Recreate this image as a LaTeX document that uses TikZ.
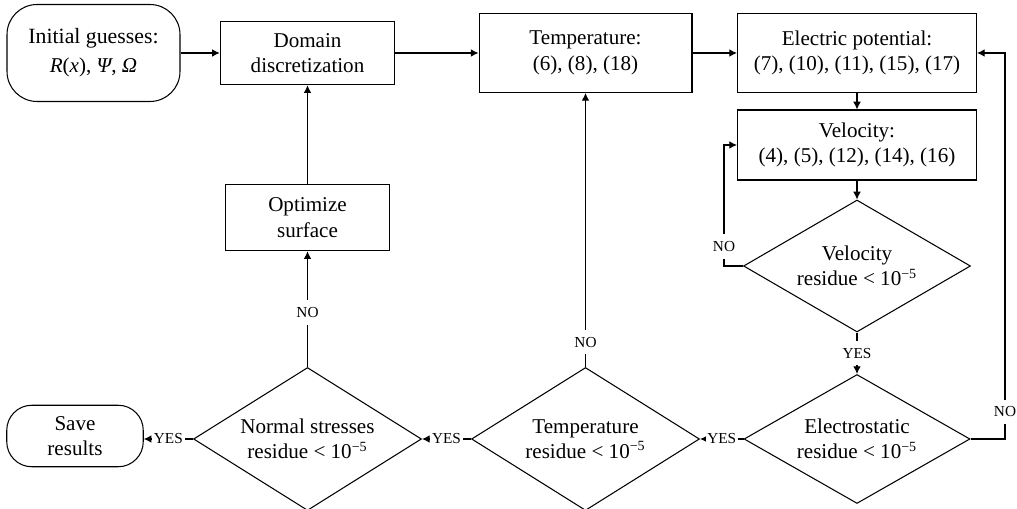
\documentclass[tikz,border=0pt]{standalone}
\usepackage{fontspec}
\setmainfont{Liberation Serif}
\usetikzlibrary{arrows.meta,shapes.geometric}

\begin{document}
\begin{tikzpicture}[x=0.02cm,y=-0.02cm,>={Latex[length=4.4pt,width=4.4pt]},line width=0.6pt,font=\fontsize{12}{14.5}\selectfont,
box/.style={draw,align=center,inner sep=0pt},
rbox/.style={box,rounded corners=0.5cm},
dia/.style={draw,diamond,align=center,inner sep=0pt},
lab/.style={fill=white,font=\fontsize{8.7}{10}\selectfont,inner xsep=1pt,inner ysep=4pt}]
\useasboundingbox (0,0) rectangle (1017,509);
% top row
\node[rbox,rounded corners=0.6cm,minimum width=3.46cm,minimum height=1.94cm] (init) at (93.5,53) {\fontsize{12.4}{14.5}\selectfont Initial guesses:\\[2pt]\textit{R}(\textit{x}), \textit{Ψ}, \textit{Ω}};
\node[box,minimum width=3.49cm,minimum height=1.27cm] (dom) at (307.5,53) {Domain\\discretization};
\node[box,minimum width=4.26cm,minimum height=1.58cm] (temp) at (585.5,53) {Temperature:\\(6), (8), (18)};
\node[box,minimum width=4.78cm,minimum height=1.58cm] (epot) at (857,53) {Electric potential:\\(7), (10), (11), (15), (17)};
\node[box,minimum width=4.78cm,minimum height=1.4cm] (vel) at (857,145) {Velocity:\\(4), (5), (12), (14), (16)};
\node[box,minimum width=3.28cm,minimum height=1.33cm] (opt) at (307.5,217.5) {Optimize\\surface};
% residue checks
\node[dia,aspect=1.72,minimum width=4.54cm,minimum height=2.64cm] (vres) at (857,266) {Velocity\\residue < 10\textsuperscript{−5}};
\node[dia,aspect=1.75,minimum width=4.52cm,minimum height=2.58cm] (eres) at (857,439) {Electrostatic\\residue < 10\textsuperscript{−5}};
\node[dia,aspect=1.59,minimum width=4.56cm,minimum height=2.86cm] (tres) at (585.5,439) {Temperature\\residue < 10\textsuperscript{−5}};
\node[dia,aspect=1.59,minimum width=4.56cm,minimum height=2.86cm] (nres) at (307.5,439) {Normal stresses\\residue < 10\textsuperscript{−5}};
\node[rbox,minimum width=2.73cm,minimum height=1.23cm] (save) at (75,436) {Save\\results};
\coordinate (vloop) at (724,266);
\coordinate (eloop) at (1005,439);
% connectors
\draw[->] (init) -- (dom);
\draw[->] (dom) -- (temp);
\draw[->] (temp) -- (epot);
\draw[->] (epot) -- (vel);
\draw[->] (vel) -- (vres);
\draw[->] (vres.west) -- (vloop) -- node[lab,pos=0.16]{NO} (vloop |- vel.west) -- (vel.west);
\draw[->] (vres) -- node[lab]{YES} (eres);
\draw[->] (eres.east) -- (eloop) -- node[lab,pos=0.07]{NO} (eloop |- epot.east) -- (epot.east);
\draw[->] (eres) -- node[lab]{YES} (tres);
\draw[->] (tres) -- node[lab,pos=0.09]{NO} (temp);
\draw[->] (tres) -- node[lab]{YES} (nres);
\draw[->] (nres) -- node[lab,pos=0.47]{NO} (opt);
\draw[->] (opt) -- (dom);
\draw[->] (nres.west) -- node[lab]{YES} (save.east |- nres.west);
\end{tikzpicture}
\end{document}
